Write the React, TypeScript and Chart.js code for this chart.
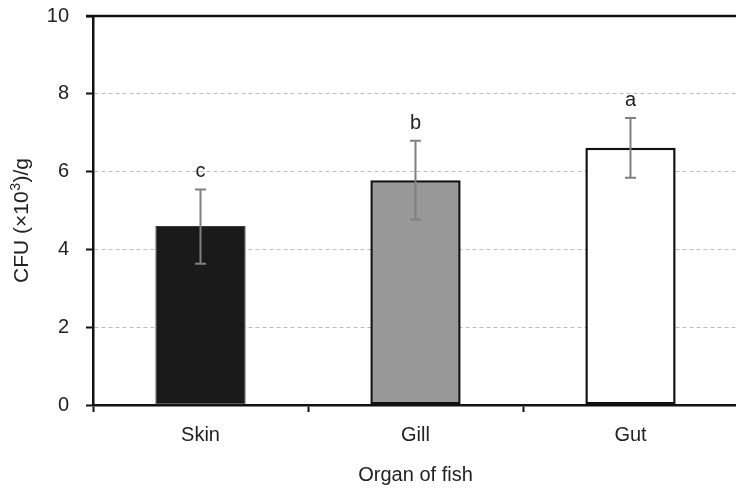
import React, { useEffect, useRef } from "react";
import { Chart, registerables } from "chart.js";

Chart.register(...registerables);

const categories = ["Skin", "Gill", "Gut"];
const means = [4.6, 5.78, 6.61];
const errLow = [3.63, 4.77, 5.84];
const errHigh = [5.54, 6.79, 7.38];
const letters = ["c", "b", "a"];
const yTicks = [0, 2, 4, 6, 8, 10];
const yTitleParts = ["CFU (×10", "3", ")/g"];
const fills = ["#1a1a1a", "#999999", "#ffffff"];
const borders = ["#3a3a3a", "#111111", "#111111"];
const borderWidths = [1, 2.5, 2.5];

const FONT = "'Liberation Sans', Arial, sans-serif";

const extrasPlugin = {
  id: "extras",
  afterDatasetsDraw(chart: any) {
    const { ctx, chartArea, scales } = chart;
    const y = scales.y;
    const meta = chart.getDatasetMeta(0);
    ctx.save();
    // error bars
    ctx.strokeStyle = "#808080";
    ctx.lineWidth = 2;
    meta.data.forEach((bar: any, i: number) => {
      const x = bar.x;
      const yl = y.getPixelForValue(errLow[i]);
      const yh = y.getPixelForValue(errHigh[i]);
      ctx.beginPath();
      ctx.moveTo(x, yl);
      ctx.lineTo(x, yh);
      ctx.moveTo(x - 5.5, yl);
      ctx.lineTo(x + 5.5, yl);
      ctx.moveTo(x - 5.5, yh);
      ctx.lineTo(x + 5.5, yh);
      ctx.stroke();
    });
    // letters
    ctx.fillStyle = "#222";
    ctx.font = `20px ${FONT}`;
    ctx.textAlign = "center";
    ctx.textBaseline = "alphabetic";
    meta.data.forEach((bar: any, i: number) => {
      const yh = y.getPixelForValue(errHigh[i]);
      ctx.fillText(letters[i], bar.x, yh - 12);
    });
    // top border
    ctx.strokeStyle = "#111";
    ctx.lineWidth = 2.5;
    ctx.beginPath();
    ctx.moveTo(chartArea.left - 7, chartArea.top);
    ctx.lineTo(chartArea.right + 2, chartArea.top);
    ctx.stroke();

    // y-axis title with real superscript
    const big = `21px ${FONT}`;
    const small = `14px ${FONT}`;
    ctx.font = big;
    const w0 = ctx.measureText(yTitleParts[0]).width;
    const w2 = ctx.measureText(yTitleParts[2]).width;
    ctx.font = small;
    const w1 = ctx.measureText(yTitleParts[1]).width + 1;
    const total = w0 + w1 + w2;
    const cy = (chartArea.top + chartArea.bottom) / 2 + 10;
    ctx.translate(28, cy);
    ctx.rotate(-Math.PI / 2);
    ctx.textAlign = "left";
    ctx.textBaseline = "alphabetic";
    ctx.fillStyle = "#222";
    let x0 = -total / 2;
    ctx.font = big;
    ctx.fillText(yTitleParts[0], x0, 0);
    x0 += w0;
    ctx.font = small;
    ctx.fillText(yTitleParts[1], x0 + 0.5, -8);
    x0 += w1;
    ctx.font = big;
    ctx.fillText(yTitleParts[2], x0, 0);
    ctx.restore();
  },
};

export default function App() {
  const ref = useRef<HTMLCanvasElement | null>(null);

  useEffect(() => {
    document.body.style.margin = "0";
    document.body.style.overflow = "hidden";
    if (!ref.current) return;
    const chart = new Chart(ref.current, {
      type: "bar",
      data: {
        labels: categories,
        datasets: [
          {
            data: means,
            backgroundColor: fills,
            borderColor: borders,
            borderWidth: borderWidths,
            borderSkipped: false,
            barPercentage: 0.42,
            categoryPercentage: 1,
          },
        ],
      },
      options: {
        animation: false,
        responsive: false,
        maintainAspectRatio: false,
        devicePixelRatio: 1,
        layout: { padding: { top: 16, right: 2, left: 0, bottom: 0 } },
        plugins: {
          legend: { display: false },
          tooltip: { enabled: false },
        },
        scales: {
          x: {
            offset: true,
            grid: {
              offset: true,
              drawOnChartArea: false,
              drawTicks: true,
              tickLength: 7,
              tickColor: "#111",
              tickWidth: 2,
            },
            border: { display: true, color: "#111", width: 2.5 },
            ticks: {
              color: "#222",
              font: { family: FONT, size: 20 },
              padding: 11,
            },
            title: {
              display: true,
              text: "Organ of fish",
              color: "#222",
              font: { family: FONT, size: 20 },
              padding: { top: 0, bottom: 3 },
            },
            afterFit(scale: any) {
              scale.height = 85;
              scale.paddingLeft = 0;
              scale.paddingRight = 0;
            },
          },
          y: {
            min: 0,
            max: 10,
            afterBuildTicks(scale: any) {
              scale.ticks = yTicks.map((v) => ({ value: v }));
            },
            grid: {
              color: (c: any) =>
                c.tick && (c.tick.value === 0 || c.tick.value === 10)
                  ? "rgba(0,0,0,0)"
                  : "#bdbdbd",
              lineWidth: 1,
              tickLength: 7,
              tickColor: "#111",
              tickWidth: 2,
            },
            border: { display: true, color: "#111", width: 2.5, dash: [4, 3] },
            ticks: {
              color: "#222",
              font: { family: FONT, size: 20 },
              padding: 17,
            },
            title: { display: false },
            afterFit(scale: any) {
              scale.width = 93;
              scale.paddingTop = 0;
              scale.paddingBottom = 0;
            },
          },
        },
      },
      plugins: [extrasPlugin],
    });
    return () => chart.destroy();
  }, []);

  return (
    <div style={{ width: 740, height: 490, position: "relative" }}>
      <canvas ref={ref} width={740} height={490} style={{ width: 740, height: 490, display: "block" }} />
    </div>
  );
}
